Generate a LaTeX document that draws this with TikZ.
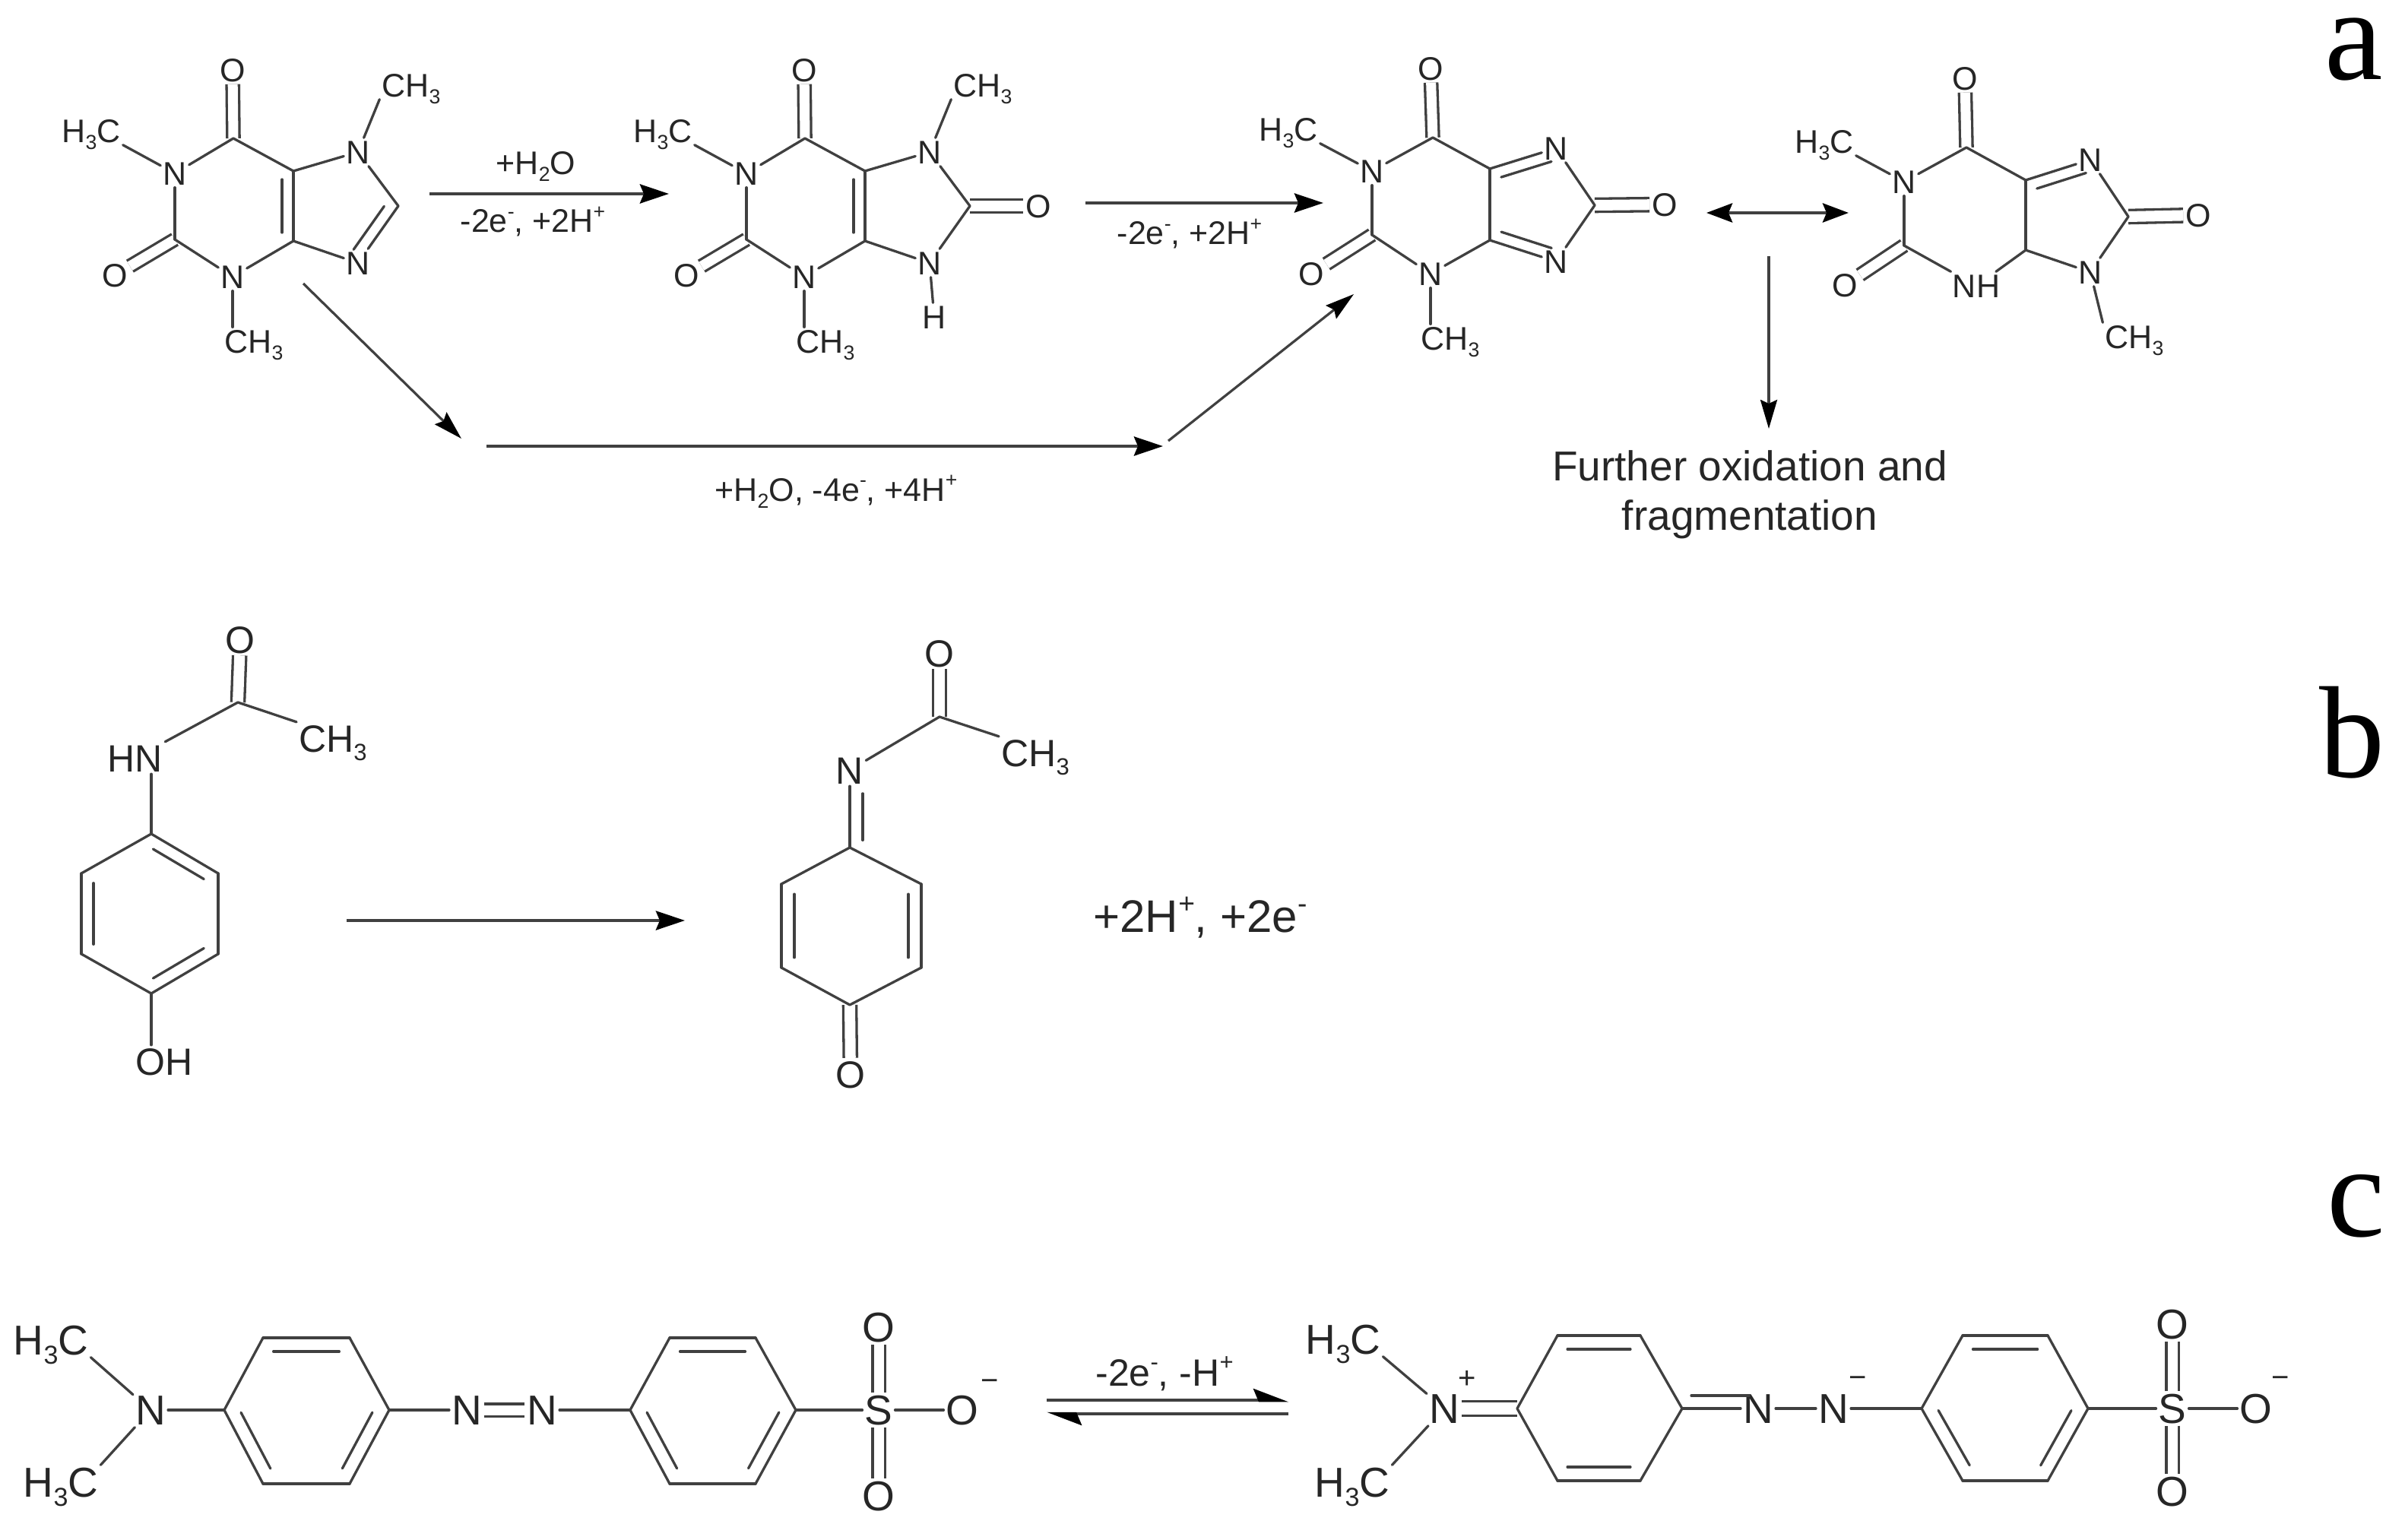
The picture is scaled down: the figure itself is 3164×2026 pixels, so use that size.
\documentclass[tikz,border=0pt]{standalone}
\usepackage{fontspec}
\usepackage{graphicx}
\usetikzlibrary{calc,arrows.meta}
\setmainfont{Liberation Sans}
\newfontfamily\letterfont{Liberation Serif}
\definecolor{inkc}{HTML}{262626}
\definecolor{linec}{HTML}{404040}
\newcommand\lo[1]{\raisebox{-.22em}{\scalebox{.62}{#1}}}
\newcommand\hi[1]{\raisebox{.42em}{\scalebox{.62}{#1}}}
\newcommand\atm[3]{\node[atom] (#1) at (#2) {#3};}
\newcommand\inb[3]{\draw[bond] ($(#1)!.12!(#2)!#3!90:(#2)$) -- ($(#2)!.12!(#1)!#3!-90:(#1)$);}
\tikzset{
  bond/.style={draw=linec,line width=3.3pt,line cap=round},
  dbond/.style={draw=linec,line width=3.3pt,double=white,double distance=#1},
  dbond/.default=13pt,
  atoma/.style={font=\fontsize{43}{43}\selectfont,text=inkc,inner sep=3pt,text height=31pt,text depth=0pt},
  atomb/.style={font=\fontsize{50}{50}\selectfont,text=inkc,inner sep=3pt,text height=36pt,text depth=0pt},
  atomc/.style={font=\fontsize{55}{55}\selectfont,text=inkc,inner sep=3pt,text height=39pt,text depth=0pt},
  chg/.style={font=\fontsize{40}{40}\selectfont,text=inkc,inner sep=0pt},
  rxn/.style={draw=linec,line width=4.5pt,-{Stealth[length=38pt,width=25pt,inset=5pt,color=black]}},
  rxnthin/.style={draw=linec,line width=3.2pt,-{Stealth[length=38pt,width=22pt,inset=5pt,color=black]}},
  rxnboth/.style={draw=linec,line width=4.5pt,{Stealth[length=34pt,width=25pt,inset=5pt,color=black]}-{Stealth[length=34pt,width=25pt,inset=5pt,color=black]}},
  rxnhalf/.style={draw=linec,line width=4.5pt,-{Stealth[harpoon,length=40pt,width=30pt,inset=6pt,color=black]}},
  lab/.style={font=\fontsize{#1}{#1}\selectfont,text=inkc,inner sep=0pt},
  panel/.style={font=\fontsize{172}{172}\selectfont\letterfont,text=black,anchor=base,inner sep=0pt},
}
\begin{document}
\begin{tikzpicture}[x=1pt,y=-1pt]
\useasboundingbox (0,0) rectangle (3164,2026);
% ---------- panel a ----------
\begin{scope}[atom/.style=atoma]
% caffeine
\atm{ao6}{306,92}{O}\atm{an1}{230,228}{N}\atm{ao2}{151,362}{O}\atm{an3}{306,364}{N}
\atm{an7}{471,200}{N}\atm{an9}{471,346}{N}
\atm{ame7}{541,112}{CH\lo{3}}\atm{ame1}{120,172}{H\lo{3}C}\atm{ame3}{334,449}{CH\lo{3}}
\coordinate (ac6) at (307,182);\coordinate (ac2) at (230,315);\coordinate (ac4) at (386,317);
\coordinate (ac5) at (386,225);\coordinate (ac8) at (524,271);
\draw[dbond] (ac6) -- (ao6);
\draw[dbond] (ac2) -- (ao2);
\draw[bond] (ac6) -- (an1);\draw[bond] (an1) -- (ac2);\draw[bond] (ac2) -- (an3);
\draw[bond] (an3) -- (ac4);\draw[bond] (ac4) -- (ac5);\draw[bond] (ac5) -- (ac6);
\draw[bond] (ac5) -- (an7);\draw[bond] (an7) -- (ac8);\draw[bond] (ac8) -- (an9);\draw[bond] (an9) -- (ac4);
\inb{ac4}{ac5}{15pt}
\inb{an9}{ac8}{15pt}
\draw[bond] (an7) -- (ame7.south west);\draw[bond] (an1) -- (ame1.south east);\draw[bond] (an3) -- (an3 |- ame3.north);
% xanthine-type intermediate
\atm{bo6}{1058,92}{O}\atm{bn1}{982,228}{N}\atm{bo2}{903,362}{O}\atm{bn3}{1058,364}{N}
\atm{bn7}{1223,200}{N}\atm{bn9}{1223,346}{N}\atm{bo8}{1366,271}{O}\atm{bh9}{1229,417}{H}
\atm{bme7}{1293,112}{CH\lo{3}}\atm{bme1}{872,172}{H\lo{3}C}\atm{bme3}{1086,449}{CH\lo{3}}
\coordinate (bc6) at (1059,182);\coordinate (bc2) at (982,315);\coordinate (bc4) at (1138,317);
\coordinate (bc5) at (1138,225);\coordinate (bc8) at (1276,271);
\draw[dbond] (bc6) -- (bo6);
\draw[dbond] (bc2) -- (bo2);
\draw[dbond=14pt] (bc8) -- (bo8);
\draw[bond] (bc6) -- (bn1);\draw[bond] (bn1) -- (bc2);\draw[bond] (bc2) -- (bn3);
\draw[bond] (bn3) -- (bc4);\draw[bond] (bc4) -- (bc5);\draw[bond] (bc5) -- (bc6);
\draw[bond] (bc5) -- (bn7);\draw[bond] (bn7) -- (bc8);\draw[bond] (bc8) -- (bn9);\draw[bond] (bn9) -- (bc4);
\inb{bc4}{bc5}{15pt}
\draw[bond] (bn9) -- (bh9);
\draw[bond] (bn7) -- (bme7.south west);\draw[bond] (bn1) -- (bme1.south east);\draw[bond] (bn3) -- (bn3 |- bme3.north);
% third molecule
\atm{co6}{1882,90}{O}\atm{cn1}{1805,225}{N}\atm{co2}{1725,360}{O}\atm{cn3}{1882,360}{N}
\atm{cn7}{2047,195}{N}\atm{cn9}{2047,344}{N}\atm{co8}{2190,269}{O}
\atm{cme1}{1695,170}{H\lo{3}C}\atm{cme3}{1908,445}{CH\lo{3}}
\coordinate (cc6) at (1885,181);\coordinate (cc2) at (1805,309);\coordinate (cc4) at (1960,316);
\coordinate (cc5) at (1960,222);\coordinate (cc8) at (2098,270);
\draw[dbond] (cc6) -- (co6);
\draw[dbond] (cc2) -- (co2);
\draw[dbond=14pt] (cc8) -- (co8);
\draw[bond] (cc6) -- (cn1);\draw[bond] (cn1) -- (cc2);\draw[bond] (cc2) -- (cn3);
\draw[bond] (cn3) -- (cc4);\draw[bond] (cc4) -- (cc5);\draw[bond] (cc5) -- (cc6);
\draw[bond] (cc5) -- (cn7);\draw[bond] (cn7) -- (cc8);\draw[bond] (cc8) -- (cn9);\draw[bond] (cn9) -- (cc4);
\inb{cn7}{cc5}{15pt}
\inb{cc4}{cn9}{15pt}
\draw[bond] (cn1) -- (cme1.south east);\draw[bond] (cn3) -- (cn3 |- cme3.north);
% resonance form
\atm{do6}{2585,103}{O}\atm{dn1}{2505,239}{N}\atm{do2}{2427,375}{O}\atm{dn3}{2600,376}{NH}
\atm{dn7}{2750,210}{N}\atm{dn9}{2750,358}{N}\atm{do8}{2892,283}{O}
\atm{dme1}{2400,186}{H\lo{3}C}\atm{dme9}{2808,443}{CH\lo{3}}
\coordinate (dc6) at (2587,194);\coordinate (dc2) at (2505,323);\coordinate (dc4) at (2665,329);
\coordinate (dc5) at (2665,237);\coordinate (dc8) at (2800,285);
\draw[dbond] (dc6) -- (do6);
\draw[dbond] (dc2) -- (do2);
\draw[dbond=14pt] (dc8) -- (do8);
\draw[bond] (dc6) -- (dn1);\draw[bond] (dn1) -- (dc2);\draw[bond] (dc2) -- (dn3);
\draw[bond] (dn3) -- (dc4);\draw[bond] (dc4) -- (dc5);\draw[bond] (dc5) -- (dc6);
\draw[bond] (dc5) -- (dn7);\draw[bond] (dn7) -- (dc8);\draw[bond] (dc8) -- (dn9);\draw[bond] (dn9) -- (dc4);
\inb{dn7}{dc5}{15pt}
\draw[bond] (dn1) -- (dme1.south east);\draw[bond] (dn9) -- (dme9.north west);
\end{scope}
% arrows of panel a
\coordinate (r1s) at (565,255);\coordinate (r1e) at (880,255);
\coordinate (r2s) at (1428,267);\coordinate (r2e) at (1741,267);
\coordinate (r3a) at (399,373);\coordinate (r3b) at (607,577);
\coordinate (r4a) at (640,587);\coordinate (r4b) at (1530,587);
\coordinate (r5a) at (1537,580);\coordinate (r5b) at (1781,387);
\coordinate (r6a) at (2245,280);\coordinate (r6b) at (2432,280);
\coordinate (r7a) at (2327,337);\coordinate (r7b) at (2327,564);
\draw[rxn] (r1s) -- (r1e);
\draw[rxn] (r2s) -- (r2e);
\draw[rxnthin] (r3a) -- (r3b);
\draw[rxn] (r4a) -- (r4b);
\draw[rxnthin] (r5a) -- (r5b);
\draw[rxnboth] (r6a) -- (r6b);
\draw[rxnthin] (r7a) -- (r7b);
\node[lab=43] (l1) at (705,219) {+H\lo{2}O};
\node[lab=43] (l2) at (701,292) {-2e\hi{-}, +2H\hi{+}};
\node[lab=43] (l3) at (1565,308) {-2e\hi{-}, +2H\hi{+}};
\node[lab=43] (l4) at (1100,647) {+H\lo{2}O, -4e\hi{-}, +4H\hi{+}};
\node[lab=55,align=center] (l5) at (2302,651) {Further oxidation and\\[10pt]fragmentation};
\node[panel] (pa) at (3097,104) {a};
% ---------- panel b ----------
\begin{scope}[atom/.style=atomb]
\atm{eo}{316,841}{O}\atm{eme}{438,971}{CH\lo{3}}\atm{en}{178,997}{HN}\atm{eoh}{216,1396}{OH}
\coordinate (ec) at (313,924);
\coordinate (er1) at (199,1097);\coordinate (er2) at (287,1149);\coordinate (er3) at (287,1255);
\coordinate (er4) at (199,1307);\coordinate (er5) at (107,1255);\coordinate (er6) at (107,1149);
\draw[dbond=14pt] (ec) -- (eo);
\draw[bond] (ec) -- (eme.north west);\draw[bond] (ec) -- (en.north east);
\draw[bond] (er1 |- en.south) -- (er1);
\draw[bond] (er1) -- (er2);\draw[bond] (er2) -- (er3);\draw[bond] (er3) -- (er4);
\draw[bond] (er4) -- (er5);\draw[bond] (er5) -- (er6);\draw[bond] (er6) -- (er1);
\inb{er2}{er1}{16pt}\inb{er4}{er3}{16pt}\inb{er6}{er5}{16pt}
\draw[bond] (er4) -- (er4 |- eoh.north);
\atm{fo}{1236,859}{O}\atm{fme}{1362,990}{CH\lo{3}}\atm{fn}{1118,1013}{N}\atm{fob}{1119,1413}{O}
\coordinate (fc) at (1236,943);
\coordinate (fr1) at (1118,1115);\coordinate (fr2) at (1212,1163);\coordinate (fr3) at (1212,1273);
\coordinate (fr4) at (1118,1322);\coordinate (fr5) at (1028,1273);\coordinate (fr6) at (1028,1163);
\draw[dbond=14pt] (fc) -- (fo);
\draw[bond] (fc) -- (fme.north west);\draw[bond] (fc) -- (fn);
\draw[bond] (fn) -- (fr1);\inb{fn.south}{fr1}{17pt}
\draw[dbond=14pt] (fr4) -- (fob);
\draw[bond] (fr1) -- (fr2);\draw[bond] (fr2) -- (fr3);\draw[bond] (fr3) -- (fr4);
\draw[bond] (fr4) -- (fr5);\draw[bond] (fr5) -- (fr6);\draw[bond] (fr6) -- (fr1);
\inb{fr6}{fr5}{17pt}\inb{fr3}{fr2}{17pt}
\end{scope}
\coordinate (r8a) at (456,1211);\coordinate (r8b) at (901,1211);
\draw[rxn] (r8a) -- (r8b);
\node[lab=60] (l6) at (1579,1207) {+2H\hi{+}, +2e\hi{-}};
\node[panel] (pb) at (3094,1022) {b};
% ---------- panel c ----------
\begin{scope}[atom/.style=atomc]
\atm{gn}{198,1855}{N}\atm{gm1}{67,1763}{H\lo{3}C}\atm{gm2}{80,1950}{H\lo{3}C}
\atm{gna}{614,1855}{N}\atm{gnb}{713,1855}{N}\atm{gs}{1156,1855}{S}\atm{go}{1266,1855}{O}
\atm{got}{1156,1746}{O}\atm{gob}{1156,1968}{O}
\node[chg] (gq) at (1302,1822) {−};
\coordinate (g1) at (295,1855);\coordinate (g2) at (346,1760);\coordinate (g3) at (460,1760);
\coordinate (g4) at (512,1855);\coordinate (g5) at (460,1952);\coordinate (g6) at (346,1952);
\coordinate (h1) at (829,1855);\coordinate (h2) at (881,1760);\coordinate (h3) at (994,1760);
\coordinate (h4) at (1047,1855);\coordinate (h5) at (994,1952);\coordinate (h6) at (881,1952);
\draw[bond] (gn) -- (gm1.south east);\draw[bond] (gn) -- (gm2.north east);\draw[bond] (gn) -- (g1);
\draw[bond] (g1) -- (g2);\draw[bond] (g2) -- (g3);\draw[bond] (g3) -- (g4);
\draw[bond] (g4) -- (g5);\draw[bond] (g5) -- (g6);\draw[bond] (g6) -- (g1);
\inb{g3}{g2}{18pt}\inb{g1}{g6}{18pt}\inb{g5}{g4}{18pt}
\draw[bond] (g4) -- (gna);\draw[dbond=13pt] (gna) -- (gnb);\draw[bond] (gnb) -- (h1);
\draw[bond] (h1) -- (h2);\draw[bond] (h2) -- (h3);\draw[bond] (h3) -- (h4);
\draw[bond] (h4) -- (h5);\draw[bond] (h5) -- (h6);\draw[bond] (h6) -- (h1);
\inb{h3}{h2}{18pt}\inb{h1}{h6}{18pt}\inb{h5}{h4}{18pt}
\draw[bond] (h4) -- (gs);\draw[bond] (gs) -- (go);
\draw[dbond=13pt] (gs) -- (got);\draw[dbond=13pt] (gs) -- (gob);
% right molecule
\atm{kn}{1900,1853}{N}\atm{km1}{1767,1762}{H\lo{3}C}\atm{km2}{1779,1950}{H\lo{3}C}
\atm{kna}{2313,1853}{N}\atm{knb}{2412,1853}{N}\atm{ks}{2858,1853}{S}\atm{ko}{2968,1853}{O}
\atm{kot}{2858,1742}{O}\atm{kob}{2858,1962}{O}
\node[chg] (kp) at (1930,1815) {+};
\node[chg] (kq) at (2444,1818) {−};
\node[chg] (kr) at (3000,1818) {−};
\coordinate (m1) at (1996,1853);\coordinate (m2) at (2049,1757);\coordinate (m3) at (2158,1757);
\coordinate (m4) at (2213,1853);\coordinate (m5) at (2158,1948);\coordinate (m6) at (2049,1948);
\coordinate (p1) at (2528,1853);\coordinate (p2) at (2582,1757);\coordinate (p3) at (2694,1757);
\coordinate (p4) at (2747,1853);\coordinate (p5) at (2694,1948);\coordinate (p6) at (2582,1948);
\draw[bond] (kn) -- (km1.south east);\draw[bond] (kn) -- (km2.north east);
\draw[dbond=16pt] (kn) -- (m1);
\draw[bond] (m1) -- (m2);\draw[bond] (m2) -- (m3);\draw[bond] (m3) -- (m4);
\draw[bond] (m4) -- (m5);\draw[bond] (m5) -- (m6);\draw[bond] (m6) -- (m1);
\inb{m3}{m2}{18pt}\inb{m6}{m5}{18pt}
\draw[bond] (m4) -- (kna);\inb{m4}{kna}{17pt}
\draw[bond] (kna) -- (knb);\draw[bond] (knb) -- (p1);
\draw[bond] (p1) -- (p2);\draw[bond] (p2) -- (p3);\draw[bond] (p3) -- (p4);
\draw[bond] (p4) -- (p5);\draw[bond] (p5) -- (p6);\draw[bond] (p6) -- (p1);
\inb{p3}{p2}{18pt}\inb{p1}{p6}{18pt}\inb{p5}{p4}{18pt}
\draw[bond] (p4) -- (ks);\draw[bond] (ks) -- (ko);
\draw[dbond=13pt] (ks) -- (kot);\draw[dbond=13pt] (ks) -- (kob);
\end{scope}
\coordinate (r9a) at (1377,1842);\coordinate (r9b) at (1695,1842);
\coordinate (r10a) at (1695,1860);\coordinate (r10b) at (1377,1860);
\draw[rxnhalf] (r9a) -- (r9b);
\draw[rxnhalf] (r10a) -- (r10b);
\node[lab=50] (l7) at (1532,1807) {-2e\hi{-}, -H\hi{+}};
\node[panel] (pc) at (3100,1626) {c};
\end{tikzpicture}
\end{document}
